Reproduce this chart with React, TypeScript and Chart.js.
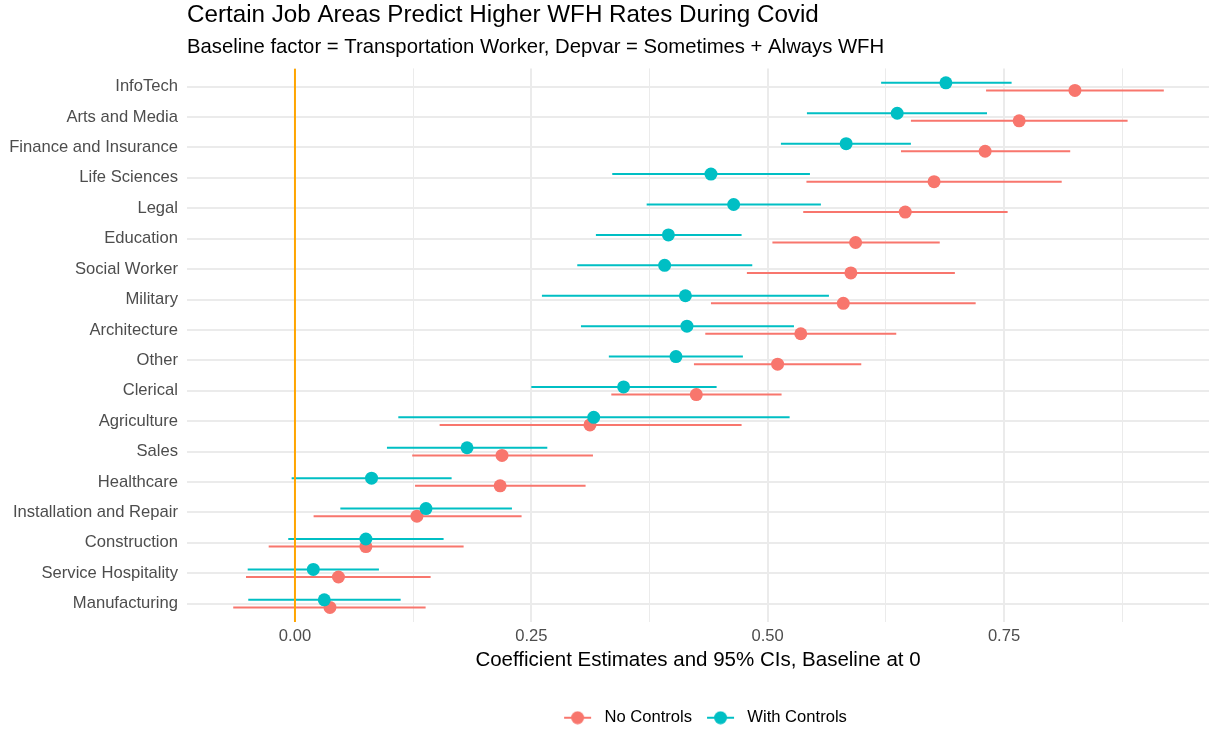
import { useEffect, useRef } from 'react';
import { Chart, registerables } from 'chart.js';

Chart.register(...registerables);

const TITLE = 'Certain Job Areas Predict Higher WFH Rates During Covid';
const SUBTITLE = 'Baseline factor = Transportation Worker, Depvar = Sometimes + Always WFH';
const X_TITLE = 'Coefficient Estimates and 95% CIs, Baseline at 0';

const categories = [
  'InfoTech',
  'Arts and Media',
  'Finance and Insurance',
  'Life Sciences',
  'Legal',
  'Education',
  'Social Worker',
  'Military',
  'Architecture',
  'Other',
  'Clerical',
  'Agriculture',
  'Sales',
  'Healthcare',
  'Installation and Repair',
  'Construction',
  'Service Hospitality',
  'Manufacturing',
];

const seriesNames = ['No Controls', 'With Controls'];

const noControlsEst = [0.825, 0.766, 0.73, 0.676, 0.6455, 0.593, 0.588, 0.58, 0.535, 0.5105, 0.4245, 0.312, 0.219, 0.217, 0.129, 0.075, 0.046, 0.037];
const noControlsLo = [0.731, 0.6515, 0.641, 0.541, 0.5376, 0.505, 0.478, 0.44, 0.434, 0.422, 0.3346, 0.153, 0.124, 0.127, 0.0197, -0.0278, -0.0518, -0.0653];
const noControlsHi = [0.919, 0.8807, 0.82, 0.811, 0.7538, 0.682, 0.698, 0.72, 0.636, 0.599, 0.5147, 0.4724, 0.3152, 0.3074, 0.2397, 0.1784, 0.1435, 0.1382];

const withControlsEst = [0.6885, 0.637, 0.583, 0.44, 0.464, 0.395, 0.391, 0.413, 0.4146, 0.403, 0.3476, 0.316, 0.182, 0.081, 0.1386, 0.075, 0.0194, 0.031];
const withControlsLo = [0.62, 0.5415, 0.514, 0.3356, 0.372, 0.3183, 0.2986, 0.2612, 0.3025, 0.332, 0.25, 0.1093, 0.0973, -0.0035, 0.048, -0.0071, -0.05, -0.0494];
const withControlsHi = [0.758, 0.732, 0.6515, 0.5447, 0.5563, 0.4724, 0.4837, 0.5648, 0.5278, 0.4738, 0.446, 0.5232, 0.2669, 0.1657, 0.2295, 0.1572, 0.0888, 0.1118];

const xMajorTicks = [0, 0.25, 0.5, 0.75];
const xTickLabels = ['0.00', '0.25', '0.50', '0.75'];
const xMinorTicks = [0.125, 0.375, 0.625, 0.875];

const BASELINE = 0;
const X_MIN = -0.1142;
const X_MAX = 0.9668;
const Y_EXPAND = 0.6;
const DODGE = 0.125;

const COLORS = ['#F8766D', '#00BFC4'];
const FONT = "'Liberation Sans', Arial, Helvetica, sans-serif";

const KEY_BOX = 47;
const KEY_START = 15;
const KEY_LEN = 27;

function makeKey(color: string): HTMLCanvasElement {
  const c = document.createElement('canvas');
  c.width = KEY_BOX;
  c.height = 14;
  const ctx = c.getContext('2d')!;
  ctx.strokeStyle = color;
  ctx.lineWidth = 2;
  ctx.beginPath();
  ctx.moveTo(KEY_START, 7);
  ctx.lineTo(KEY_START + KEY_LEN, 7);
  ctx.stroke();
  ctx.fillStyle = color;
  ctx.beginPath();
  ctx.arc(KEY_START + KEY_LEN / 2, 7, 6.5, 0, Math.PI * 2);
  ctx.fill();
  return c;
}

function pointData(est: number[], offset: number) {
  return categories.map((_, i) => ({ x: est[i], y: i + offset }));
}

function ciData(lo: number[], hi: number[], offset: number) {
  const out: { x: number | null; y: number | null }[] = [];
  categories.forEach((_, i) => {
    out.push({ x: lo[i], y: i + offset });
    out.push({ x: hi[i], y: i + offset });
    out.push({ x: null, y: null });
  });
  return out;
}

export default function App() {
  const canvasRef = useRef<HTMLCanvasElement | null>(null);

  useEffect(() => {
    document.body.style.margin = '0';
    const canvas = canvasRef.current;
    if (!canvas) return;
    const keys = COLORS.map(makeKey);
    const offsets = [DODGE, -DODGE];

    const chart = new Chart(canvas, {
      type: 'scatter',
      data: {
        datasets: [
          {
            label: seriesNames[0],
            data: pointData(noControlsEst, offsets[0]),
            backgroundColor: COLORS[0],
            borderColor: COLORS[0],
            borderWidth: 0,
            pointRadius: 6.5,
            order: 1,
          },
          {
            label: seriesNames[1],
            data: pointData(withControlsEst, offsets[1]),
            backgroundColor: COLORS[1],
            borderColor: COLORS[1],
            borderWidth: 0,
            pointRadius: 6.5,
            order: 0,
          },
          {
            label: 'baseline',
            data: [
              { x: BASELINE, y: -Y_EXPAND },
              { x: BASELINE, y: categories.length - 1 + Y_EXPAND },
            ],
            showLine: true,
            borderColor: '#FFA500',
            borderWidth: 2,
            pointRadius: 0,
            order: 2,
          },
          {
            label: 'ci-with',
            data: ciData(withControlsLo, withControlsHi, offsets[1]) as any,
            showLine: true,
            spanGaps: false,
            borderColor: COLORS[1],
            borderWidth: 2,
            pointRadius: 0,
            order: 3,
          },
          {
            label: 'ci-no',
            data: ciData(noControlsLo, noControlsHi, offsets[0]) as any,
            showLine: true,
            spanGaps: false,
            borderColor: COLORS[0],
            borderWidth: 2,
            pointRadius: 0,
            order: 4,
          },
        ],
      },
      options: {
        responsive: false,
        devicePixelRatio: 1,
        animation: false,
        events: [],
        layout: { autoPadding: false, padding: { top: 1, left: 0, right: 0, bottom: -6 } },
        font: { family: FONT },
        scales: {
          x: {
            type: 'linear',
            min: X_MIN,
            max: X_MAX,
            border: { display: false },
            afterBuildTicks: (scale: any) => {
              scale.ticks = [...xMajorTicks, ...xMinorTicks]
                .sort((a, b) => a - b)
                .map((v) => ({ value: v }));
            },
            afterFit: (scale: any) => {
              scale.paddingLeft = 0;
              scale.paddingRight = 0;
            },
            grid: {
              drawTicks: false,
              color: '#EBEBEB',
              lineWidth: (ctx: any) => (xMajorTicks.includes(ctx.tick?.value) ? 2 : 1),
            },
            ticks: {
              autoSkip: false,
              maxRotation: 0,
              padding: 5,
              color: '#4D4D4D',
              font: { family: FONT, size: 16.6 },
              callback: (value: any) => {
                const idx = xMajorTicks.indexOf(Number(value));
                return idx >= 0 ? xTickLabels[idx] : '';
              },
            },
            title: {
              display: true,
              text: X_TITLE,
              color: '#000000',
              font: { family: FONT, size: 20.5 },
              padding: { top: -4, bottom: 37 },
            },
          },
          y: {
            type: 'linear',
            reverse: true,
            min: -Y_EXPAND,
            max: categories.length - 1 + Y_EXPAND,
            border: { display: false },
            afterBuildTicks: (scale: any) => {
              scale.ticks = categories.map((_, i) => ({ value: i }));
            },
            afterFit: (scale: any) => {
              scale.width = 187;
              scale.paddingLeft = 0;
              scale.paddingRight = 0;
            },
            grid: {
              drawTicks: false,
              color: '#EBEBEB',
              lineWidth: 2,
            },
            ticks: {
              autoSkip: false,
              padding: 9,
              color: '#4D4D4D',
              font: { family: FONT, size: 16.6 },
              callback: (value: any) => categories[Number(value)] ?? '',
            },
          },
        },
        plugins: {
          tooltip: { enabled: false },
          title: {
            display: true,
            text: TITLE,
            align: 'start',
            fullSize: false,
            color: '#000000',
            font: { family: FONT, size: 24.2, weight: 'normal' },
            padding: { top: 0, bottom: 4 },
          },
          subtitle: {
            display: true,
            text: SUBTITLE,
            align: 'start',
            fullSize: false,
            color: '#000000',
            font: { family: FONT, size: 20.3, weight: 'normal' },
            padding: { top: 1, bottom: 9 },
          },
          legend: {
            display: true,
            position: 'bottom',
            fullSize: false,
            onClick: () => {},
            labels: {
              usePointStyle: true,
              pointStyleWidth: KEY_BOX,
              padding: 0,
              color: '#000000',
              font: { family: FONT, size: 16.6 },
              generateLabels: () =>
                seriesNames.map((name, k) => ({
                  text: name,
                  pointStyle: keys[k] as any,
                  datasetIndex: k,
                  fillStyle: COLORS[k],
                  strokeStyle: COLORS[k],
                  lineWidth: 0,
                  hidden: false,
                  fontColor: '#000000',
                })),
            },
          },
        },
      } as any,
    });

    return () => {
      chart.destroy();
    };
  }, []);

  return (
    <div style={{ width: 1209, height: 730 }}>
      <canvas ref={canvasRef} width={1209} height={730} style={{ display: 'block' }} />
    </div>
  );
}
